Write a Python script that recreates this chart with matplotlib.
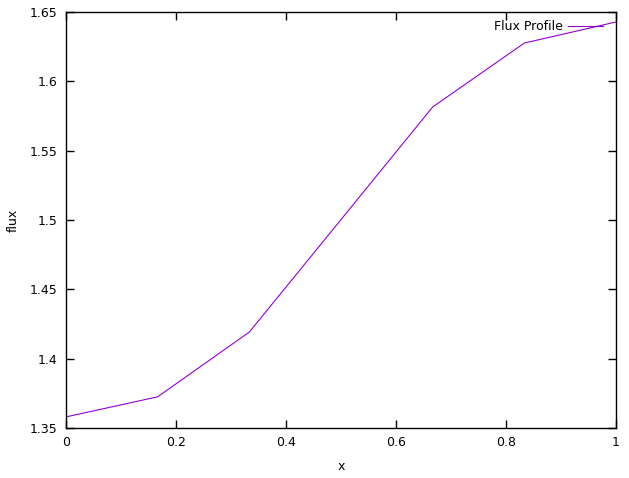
import numpy as np
import matplotlib
matplotlib.use('Agg')
from matplotlib import pyplot as plt

x = [0.0, 1/6, 1/3, 0.5, 2/3, 5/6, 1.0]
flux = [1.358, 1.3725, 1.4192, 1.5003, 1.5815, 1.6276, 1.6428]

plt.rcParams['font.family'] = ['DejaVu Sans']
plt.rcParams['font.size'] = 9

fig = plt.figure(figsize=(6.29, 4.78), dpi=100)
ax = fig.add_axes([66/629, 50/478, 550/629, 416/478])
ax.plot(x, flux, color='#9400d3', linewidth=0.8)
ax.set_xlim(0, 1)
ax.set_ylim(1.35, 1.65)
ax.set_xticks(np.arange(0, 1.01, 0.2))
ax.set_xticklabels(['0', '0.2', '0.4', '0.6', '0.8', '1'])
ax.set_yticks(np.arange(1.35, 1.651, 0.05))
ax.set_yticklabels(['1.35', '1.4', '1.45', '1.5', '1.55', '1.6', '1.65'])
ax.tick_params(direction='in', top=True, right=True, length=6, width=1, pad=6)
for s in ax.spines.values():
    s.set_linewidth(1)
ax.set_xlabel('x', labelpad=8)
ax.set_ylabel('flux', labelpad=7)

# gnuplot-style key: text right aligned, sample line after it
ax.text(563/629, 1 - 26/478, 'Flux Profile', transform=fig.transFigure,
        ha='right', va='center')
ax.plot([568/629, 603/629], [1 - 26/478] * 2, transform=fig.transFigure,
        color='#9400d3', linewidth=0.8, clip_on=False)

fig.savefig('out.png', dpi=100)
